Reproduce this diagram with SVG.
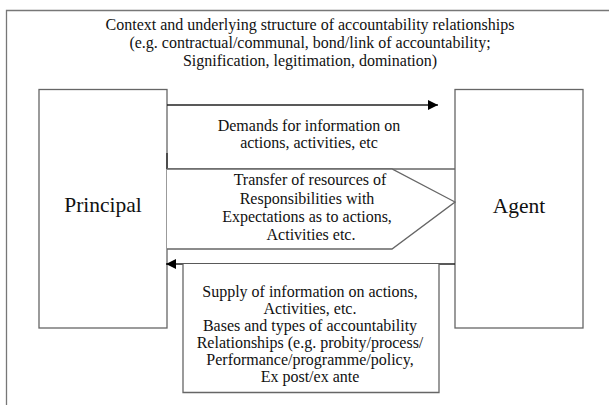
<svg xmlns="http://www.w3.org/2000/svg" width="609" height="405" viewBox="0 0 609 405">
<defs>
<style>
text{font-family:'Liberation Serif','DejaVu Serif',serif;font-size:16px;fill:#111;text-anchor:middle}
.big{font-size:21.5px}
.box{fill:#fff;stroke:#666;stroke-width:1.3}
.ln{fill:none;stroke:#222;stroke-width:1.3}
</style>
<marker id="ah" viewBox="0 0 10 10" refX="10" refY="5" markerWidth="10" markerHeight="10" markerUnits="userSpaceOnUse" orient="auto">
<path d="M0,0 L10,5 L0,10 z" fill="#000"/>
</marker>
</defs>
<rect width="609" height="405" fill="#fff"/>
<g font-family="Liberation Serif, serif">
<g id="context">
<path d="M6.5,405 V10.5 H609" fill="none" stroke="#777" stroke-width="1.3"/>
<text x="310" y="30">Context and underlying structure of accountability relationships</text>
<text x="310" y="48">(e.g. contractual/communal, bond/link of accountability;</text>
<text x="310" y="66">Signification, legitimation, domination)</text>
</g>
<g id="principal">
<rect class="box" x="39" y="89.5" width="128" height="238.5"/>
<text class="big" x="103" y="212">Principal</text>
</g>
<g id="agent">
<rect class="box" x="455" y="89.5" width="128" height="238.5"/>
<text class="big" x="519" y="213">Agent</text>
</g>
<g id="connectors">
<line class="ln" x1="167" y1="105" x2="438" y2="105" marker-end="url(#ah)"/>
<line class="ln" x1="167" y1="169" x2="167" y2="153"/>
<line class="ln" x1="455" y1="264" x2="166" y2="264" marker-end="url(#ah)"/>
</g>
<g id="demands">
<path d="M167,169 H455" fill="none" stroke="#666" stroke-width="1.3"/>
<text x="309" y="130.5">Demands for information on</text>
<text x="309" y="148">actions, activities, etc</text>
</g>
<g id="transfer">
<path d="M167,169 H392 L455,202 L392,249 H167" fill="#fff" stroke="#666" stroke-width="1.3"/>
<text x="310" y="185">Transfer of resources of</text>
<text x="307" y="203.5">Responsibilities with</text>
<text x="307" y="222">Expectations as to actions,</text>
<text x="311" y="240">Activities etc.</text>
</g>
<g id="supply">
<path d="M183,264 V392.5 H439 V264" fill="#fff" stroke="#666" stroke-width="1.3"/>
<text x="310" y="297">Supply of information on actions,</text>
<text x="310" y="314">Activities, etc.</text>
<text x="310" y="331">Bases and types of accountability</text>
<text x="310" y="348">Relationships (e.g. probity/process/</text>
<text x="310" y="365">Performance/programme/policy,</text>
<text x="310" y="382">Ex post/ex ante</text>
</g>
</g>
</svg>
